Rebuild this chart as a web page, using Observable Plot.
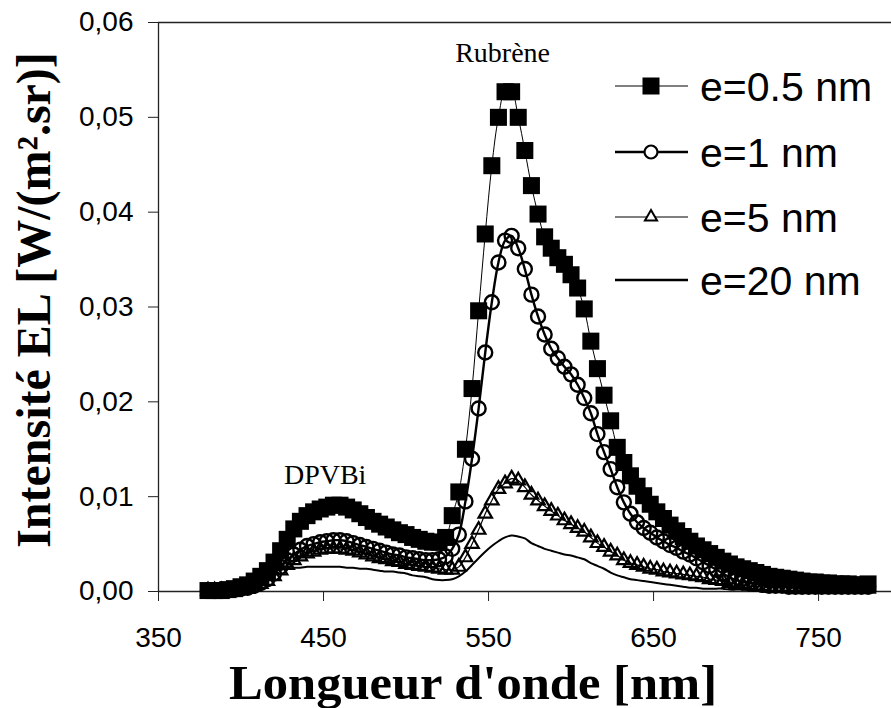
<!DOCTYPE html>
<html><head><meta charset="utf-8">
<script src="https://cdn.jsdelivr.net/npm/d3@7"></script>
<script src="https://cdn.jsdelivr.net/npm/@observablehq/plot@0.6"></script>
<style>body{margin:0;background:#fff}#chart{width:891px;height:708px;position:relative}</style>
</head><body><div id="chart"></div>
<script>
const wavelengths = [380,384,388,392,396,400,404,408,412,416,420,424,428,432,436,440,444,448,452,456,460,464,468,472,476,480,484,488,492,496,500,504,508,512,516,520,524,528,532,536,540,544,548,552,556,560,564,568,572,576,580,584,588,592,596,600,604,608,612,616,620,624,628,632,636,640,644,648,652,656,660,664,668,672,676,680,684,688,692,696,700,704,708,712,716,720,724,728,732,736,740,744,748,752,756,760,764,768,772,776,780];
const e05 = [0.0001,0.0001,0.0001,0.0002,0.0003,0.0005,0.0007,0.0011,0.0016,0.0022,0.0031,0.0043,0.0055,0.0066,0.0074,0.0080,0.0084,0.0087,0.0089,0.0091,0.0091,0.0089,0.0086,0.0082,0.0078,0.0074,0.0071,0.0068,0.0065,0.0062,0.0060,0.0057,0.0055,0.0053,0.0052,0.0052,0.0057,0.0080,0.0105,0.0150,0.0214,0.0296,0.0377,0.0449,0.0500,0.0527,0.0527,0.0500,0.0465,0.0428,0.0398,0.0374,0.0362,0.0352,0.0345,0.0334,0.0320,0.0298,0.0264,0.0235,0.0207,0.0180,0.0152,0.0136,0.0122,0.0111,0.0101,0.0092,0.0084,0.0077,0.0070,0.0064,0.0058,0.0053,0.0048,0.0044,0.0040,0.0036,0.0032,0.0029,0.0026,0.0024,0.0022,0.0020,0.0018,0.0016,0.0015,0.0014,0.0013,0.0012,0.0011,0.0010,0.0010,0.0009,0.0009,0.0008,0.0008,0.0008,0.0007,0.0007,0.0008];
const e1 = [0.0001,0.0001,0.0001,0.0001,0.0002,0.0003,0.0004,0.0006,0.0009,0.0013,0.0019,0.0026,0.0033,0.0039,0.0044,0.0048,0.0050,0.0052,0.0053,0.0054,0.0054,0.0053,0.0051,0.0049,0.0047,0.0045,0.0043,0.0041,0.0039,0.0038,0.0036,0.0035,0.0034,0.0033,0.0033,0.0034,0.0037,0.0045,0.0060,0.0095,0.0140,0.0193,0.0252,0.0305,0.0347,0.0370,0.0375,0.0362,0.0340,0.0313,0.0290,0.0271,0.0256,0.0246,0.0237,0.0229,0.0218,0.0204,0.0188,0.0166,0.0147,0.0129,0.0110,0.0094,0.0082,0.0073,0.0067,0.0062,0.0057,0.0053,0.0049,0.0046,0.0042,0.0039,0.0035,0.0031,0.0027,0.0023,0.0019,0.0015,0.0012,0.0010,0.0009,0.0008,0.0007,0.0006,0.0006,0.0006,0.0005,0.0005,0.0005,0.0005,0.0005,0.0005,0.0005,0.0005,0.0005,0.0005,0.0005,0.0005,0.0005];
const e5 = [0.0001,0.0001,0.0001,0.0001,0.0002,0.0002,0.0003,0.0005,0.0008,0.0011,0.0016,0.0022,0.0028,0.0033,0.0037,0.0040,0.0042,0.0044,0.0045,0.0045,0.0045,0.0044,0.0043,0.0041,0.0039,0.0037,0.0035,0.0034,0.0032,0.0031,0.0029,0.0028,0.0027,0.0026,0.0025,0.0024,0.0023,0.0023,0.0026,0.0036,0.0050,0.0065,0.0082,0.0096,0.0108,0.0114,0.0119,0.0117,0.0110,0.0102,0.0096,0.0090,0.0085,0.0080,0.0075,0.0071,0.0067,0.0063,0.0057,0.0051,0.0047,0.0042,0.0038,0.0033,0.0030,0.0028,0.0026,0.0024,0.0023,0.0021,0.0020,0.0019,0.0018,0.0017,0.0016,0.0015,0.0013,0.0012,0.0011,0.0009,0.0008,0.0007,0.0006,0.0005,0.0005,0.0004,0.0004,0.0004,0.0004,0.0004,0.0003,0.0003,0.0003,0.0003,0.0003,0.0003,0.0003,0.0003,0.0003,0.0003,0.0003];
const e20 = [0.0000,0.0000,0.0001,0.0001,0.0002,0.0003,0.0006,0.0010,0.0015,0.0019,0.0021,0.0023,0.0024,0.0025,0.0025,0.0026,0.0026,0.0026,0.0026,0.0026,0.0026,0.0025,0.0025,0.0024,0.0024,0.0023,0.0022,0.0021,0.0021,0.0020,0.0019,0.0017,0.0016,0.0015,0.0013,0.0012,0.0012,0.0013,0.0016,0.0021,0.0028,0.0035,0.0042,0.0048,0.0053,0.0057,0.0059,0.0058,0.0056,0.0051,0.0048,0.0045,0.0043,0.0041,0.0039,0.0038,0.0036,0.0034,0.0030,0.0027,0.0024,0.0020,0.0017,0.0015,0.0013,0.0012,0.0011,0.0010,0.0009,0.0008,0.0007,0.0006,0.0005,0.0004,0.0004,0.0003,0.0003,0.0003,0.0003,0.0002,0.0002,0.0002,0.0002,0.0002,0.0002,0.0001,0.0001,0.0001,0.0001,0.0001,0.0001,0.0001,0.0001,0.0001,0.0001,0.0001,0.0001,0.0001,0.0001,0.0001,0.0001];
const seriesNames = ["e=0.5 nm","e=1 nm","e=5 nm","e=20 nm"];
const xTicks = [350,450,550,650,750];
const yTicks = [0,0.01,0.02,0.03,0.04,0.05,0.06];
const annotations = [{w:558.5, v:0.0558, t:"Rubrène"},{w:451, v:0.0113, t:"DPVBi"}];
const xTitle = "Longueur d'onde [nm]";
const yTitle = "Intensité EL [W/(m².sr)]";

const rows = vals => wavelengths.map((w,i)=>({w, v: vals[i]}));
const A = rows(e05), B = rows(e1), C = rows(e5), D = rows(e20);
const serif = "'Liberation Serif','Times New Roman',serif";
const sans = "'Liberation Sans',Arial,sans-serif";

const plot = Plot.plot({
  width: 891, height: 708,
  marginLeft: 158, marginRight: 0, marginTop: 22, marginBottom: 117,
  style: {background: "white", fontFamily: sans, color: "black", overflow: "visible"},
  x: {domain: [350, 794.2]},
  y: {domain: [0, 0.06]},
  marks: [
    Plot.ruleY([0.06], {stroke: "#222", strokeWidth: 1.5}),
    Plot.ruleX([350], {stroke: "#222", strokeWidth: 1.3}),
    Plot.ruleY([0], {stroke: "#222", strokeWidth: 1.3}),
    Plot.axisX({ticks: xTicks, tickSize: 10, tickPadding: 26, fontSize: 28, label: null, tickFormat: d => String(d), stroke: "#222"}),
    Plot.axisY({ticks: yTicks, tickSize: 10, tickPadding: 15, fontSize: 28, label: null, tickFormat: d => d.toFixed(2).replace(".", ","), stroke: "#222"}),
    Plot.line(A, {x: "w", y: "v", stroke: "black", strokeWidth: 1, curve: "catmull-rom"}),
    Plot.dot(A, {x: "w", y: "v", symbol: "square", r: 9.6, fill: "black", stroke: "none"}),
    Plot.line(B, {x: "w", y: "v", stroke: "black", strokeWidth: 2.4, curve: "catmull-rom"}),
    Plot.dot(B, {x: "w", y: "v", symbol: "circle", r: 7, fill: "none", stroke: "black", strokeWidth: 2.4}),
    Plot.line(C, {x: "w", y: "v", stroke: "black", strokeWidth: 1.2, curve: "catmull-rom"}),
    Plot.dot(C, {x: "w", y: "v", symbol: "triangle", r: 5, fill: "none", stroke: "black", strokeWidth: 2.2}),
    Plot.line(D, {x: "w", y: "v", stroke: "black", strokeWidth: 2, curve: "catmull-rom"}),
    Plot.text(annotations, {x: "w", y: "v", text: "t", fontFamily: serif, fontSize: 28, lineAnchor: "bottom", fill: "black"})
  ]
});
document.getElementById("chart").appendChild(plot);

const svg = d3.select(plot);
// axis titles
svg.append("text").attr("x", 473).attr("y", 699).attr("text-anchor", "middle")
  .attr("textLength", 488).attr("lengthAdjust", "spacingAndGlyphs")
  .attr("font-family", serif).attr("font-weight", "bold").attr("font-size", 48).attr("fill", "black").text(xTitle);
svg.append("text").attr("transform", "translate(33,300) rotate(-90)").attr("dy", "0.35em").attr("text-anchor", "middle")
  .attr("font-family", serif).attr("font-weight", "bold").attr("font-size", 48).attr("fill", "black").text(yTitle);

// legend
const lg = svg.append("g");
const legendRows = [
  {name: seriesNames[0], y: 86, sym: d3.symbolSquare, size: Math.PI*9.6*9.6, fill: "black", sw: 1, lw: 1},
  {name: seriesNames[1], y: 152, sym: d3.symbolCircle, size: Math.PI*6.5*6.5, fill: "white", sw: 2.2, lw: 2.5},
  {name: seriesNames[2], y: 217, sym: d3.symbolTriangle, size: Math.PI*4.5*4.5, fill: "white", sw: 2, lw: 1},
  {name: seriesNames[3], y: 280, sym: null, lw: 2.5}
];
legendRows.forEach(r => {
  lg.append("line").attr("x1", 615).attr("x2", 688).attr("y1", r.y).attr("y2", r.y).attr("stroke", "black").attr("stroke-width", r.lw);
  if (r.sym) {
    lg.append("path").attr("d", d3.symbol(r.sym, r.size)()).attr("transform", `translate(651,${r.y})`)
      .attr("fill", r.fill).attr("stroke", r.fill === "black" ? "none" : "black").attr("stroke-width", r.sw);
  }
  lg.append("text").attr("x", 700).attr("y", r.y).attr("dy", "0.36em").attr("text-anchor", "start")
    .attr("font-family", sans).attr("font-size", 41).attr("fill", "black").text(r.name);
});
</script>
</body></html>
